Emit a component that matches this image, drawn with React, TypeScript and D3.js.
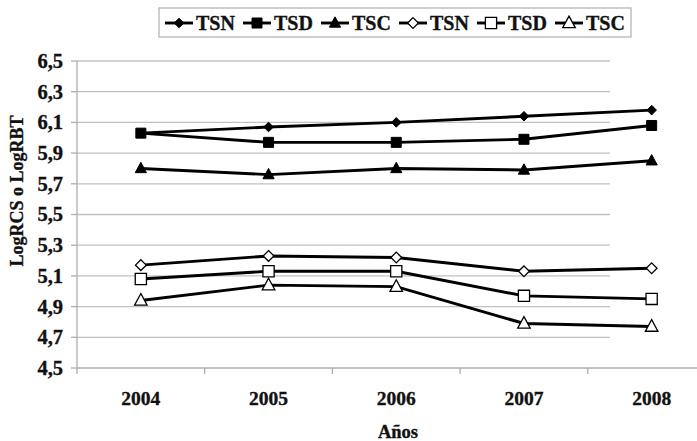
import React from 'react';
import * as d3 from 'd3';

// values
const years: string[] = ['2004', '2005', '2006', '2007', '2008'];
const tsnFilled: number[] = [6.03, 6.07, 6.1, 6.14, 6.18];
const tsdFilled: number[] = [6.03, 5.97, 5.97, 5.99, 6.08];
const tscFilled: number[] = [5.8, 5.76, 5.8, 5.79, 5.85];
const tsnOpen: number[] = [5.17, 5.23, 5.22, 5.13, 5.15];
const tsdOpen: number[] = [5.08, 5.13, 5.13, 4.97, 4.95];
const tscOpen: number[] = [4.94, 5.04, 5.03, 4.79, 4.77];
const yTicks: number[] = [4.5, 4.7, 4.9, 5.1, 5.3, 5.5, 5.7, 5.9, 6.1, 6.3, 6.5];

type Shape = 'diamond' | 'square' | 'triangle';

type Series = {
  name: string;
  values: number[];
  shape: Shape;
  open: boolean;
};

const series: Series[] = [
  { name: 'TSN', values: tsnFilled, shape: 'diamond', open: false },
  { name: 'TSD', values: tsdFilled, shape: 'square', open: false },
  { name: 'TSC', values: tscFilled, shape: 'triangle', open: false },
  { name: 'TSN', values: tsnOpen, shape: 'diamond', open: true },
  { name: 'TSD', values: tsdOpen, shape: 'square', open: true },
  { name: 'TSC', values: tscOpen, shape: 'triangle', open: true },
];

const FONT = '"Liberation Serif", "Times New Roman", serif';

/* marker outline centred at 0,0 */
const markerPath = (shape: Shape, open: boolean): string => {
  const r = open ? 1.12 : 1;
  if (shape === 'diamond') {
    const h = 4.8 * r;
    return `M0,${-h}L${h},0L0,${h}L${-h},0Z`;
  }
  if (shape === 'square') {
    const h = 5 * r;
    return `M${-h},${-h}H${h}V${h}H${-h}Z`;
  }
  const h = 5.6 * r;
  return `M0,${-h * 1.1}L${h},${h * 0.75}L${-h},${h * 0.75}Z`;
};

const Marker = ({ s, x, y }: { s: Series; x: number; y: number }) => (
  <path
    d={markerPath(s.shape, s.open)}
    transform={`translate(${x},${y})`}
    fill={s.open ? '#fff' : '#000'}
    stroke="#000"
    strokeWidth={s.open ? 1.3 : 1}
  />
);

const App = () => {
  const width = 697;
  const height = 441;
  const left = 77;
  const bottom = 368;
  const top = 61;
  const step = 127.7;
  const gridEnd = 610;

  const x = d3
    .scaleBand<string>()
    .domain(years)
    .range([left, left + step * years.length]);
  const y = d3.scaleLinear().domain([4.5, 6.5]).range([bottom, top]);
  const fmt = (v: number) => d3.format('.1f')(v).replace('.', ',');

  const line = d3
    .line<number>()
    .x((_, i) => (x(years[i]) as number) + x.bandwidth() / 2)
    .y((d) => y(d));

  const legendX = 165;
  const legendStride = 78;
  const legendY = 23;

  // scanned text in the reference looks heavy; a hairline stroke thickens it
  const ink = { fill: '#111', stroke: '#111', strokeWidth: 0.35 };

  return (
    <svg
      width={width}
      height={height}
      style={{ position: 'absolute', left: 0, top: 0, background: '#fff' }}
      fontFamily={FONT}
      fontWeight="bold"
    >
      {/* gridlines */}
      <g id="grid">
        {yTicks
          .filter((t) => t > 4.5)
          .map((t) => (
            <line
              key={t}
              x1={left}
              x2={gridEnd}
              y1={y(t)}
              y2={y(t)}
              stroke="#c4c0bc"
              strokeWidth={1.3}
            />
          ))}
      </g>

      {/* axes */}
      <g id="y-axis">
        <line x1={left} x2={left} y1={top} y2={bottom} stroke="#b0aca8" strokeWidth={1.3} />
        {yTicks.map((t) => (
          <g key={t}>
            <line x1={left - 6} x2={left} y1={y(t)} y2={y(t)} stroke="#b0aca8" strokeWidth={1.3} />
            <text x={63} y={y(t)} dy="0.34em" textAnchor="end" fontSize={20.5} {...ink}>
              {fmt(t)}
            </text>
          </g>
        ))}
      </g>
      <g id="x-axis">
        <line x1={left} x2={width} y1={bottom} y2={bottom} stroke="#b0aca8" strokeWidth={1.3} />
        {years.map((yr) => (
          <g key={yr}>
            <line
              x1={x(yr) as number}
              x2={x(yr) as number}
              y1={bottom}
              y2={bottom + 6}
              stroke="#b0aca8"
              strokeWidth={1.3}
            />
            <text
              x={(x(yr) as number) + x.bandwidth() / 2}
              y={405}
              textAnchor="middle"
              fontSize={19.5}
              {...ink}
            >
              {yr}
            </text>
          </g>
        ))}
      </g>

      <text x={398} y={438} textAnchor="middle" fontSize={18.5} {...ink}>
        Años
      </text>
      <text transform="translate(23,191) rotate(-90)" textAnchor="middle" fontSize={18} {...ink}>
        LogRCS o LogRBT
      </text>

      {/* series */}
      <g id="series">
        {series.map((s, i) => (
          <path key={i} d={line(s.values) || ''} fill="none" stroke="#000" strokeWidth={2.9} />
        ))}
        {series.map((s, i) =>
          s.values.map((v, j) => (
            <Marker
              key={`${i}-${j}`}
              s={s}
              x={(x(years[j]) as number) + x.bandwidth() / 2}
              y={y(v)}
            />
          ))
        )}
      </g>

      {/* legend */}
      <g id="legend">
        <rect x={159} y={8} width={472} height={29} fill="#fff" stroke="#b8b4b0" strokeWidth={1.3} />
        {series.map((s, i) => {
          const lx = legendX + i * legendStride;
          return (
            <g key={i}>
              <line x1={lx} x2={lx + 28} y1={legendY} y2={legendY} stroke="#000" strokeWidth={2.9} />
              <Marker s={s} x={lx + 14} y={legendY} />
              <text x={lx + 31} y={legendY} dy="0.35em" fontSize={20} {...ink}>
                {s.name}
              </text>
            </g>
          );
        })}
      </g>
    </svg>
  );
};

export default App;
